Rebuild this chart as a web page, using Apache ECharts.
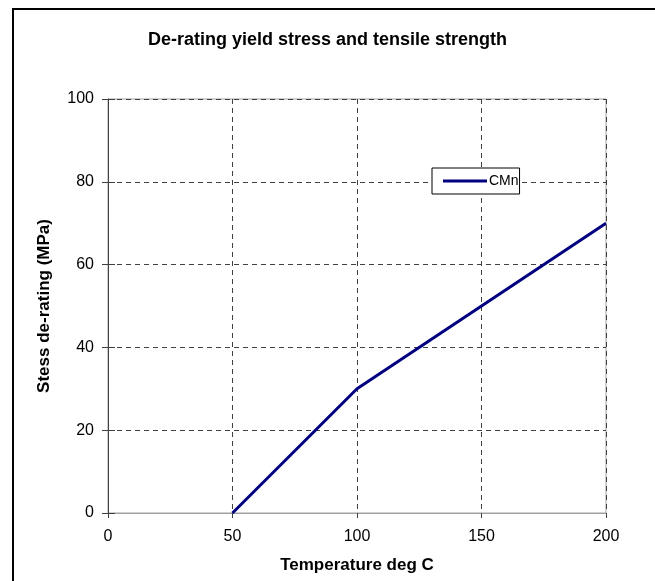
<!DOCTYPE html>
<html>
<head>
<meta charset="utf-8">
<script src="https://cdn.jsdelivr.net/npm/echarts@6/dist/echarts.min.js"></script>
<style>
html,body{margin:0;padding:0;background:#fff;}
#c{width:655px;height:581px;}
</style>
</head>
<body>
<div id="c"></div>
<script>
var titleText = 'De-rating yield stress and tensile strength';
var xAxisName = 'Temperature deg C';
var yAxisName = 'Stess de-rating (MPa)';
var seriesName = 'CMn';
var temps = [50, 100, 200];
var derating = [0, 30, 70];

var chart = echarts.init(document.getElementById('c'), null, {renderer: 'canvas'});
var font = 'Liberation Sans, Arial, sans-serif';
chart.setOption({
  backgroundColor: '#fff',
  animation: false,
  title: {
    text: titleText,
    left: 'center',
    top: 26,
    textStyle: {fontFamily: font, fontSize: 18, fontWeight: 'bold', color: '#000'}
  },
  graphic: [{
    type: 'rect',
    shape: {x: 13, y: 9, width: 700, height: 700},
    style: {fill: null, stroke: '#000', lineWidth: 2},
    silent: true
  }],
  legend: {
    data: [{name: seriesName, icon: 'rect'}],
    left: 432,
    top: 168,
    orient: 'vertical',
    backgroundColor: '#fff',
    borderColor: '#000',
    borderWidth: 1,
    borderRadius: 0,
    padding: [5, 1, 5, 11],
    itemWidth: 44,
    itemHeight: 3,
    itemGap: 0,
    itemStyle: {color: '#000080'},
    textStyle: {fontFamily: font, fontSize: 14, color: '#000', lineHeight: 16, padding: [0, 0, 0, -3]},
    z: 10
  },
  grid: {
    left: 108, right: 49, top: 99, bottom: 68,
    show: true, borderColor: '#a0a0a0', borderWidth: 1, backgroundColor: 'transparent'
  },
  xAxis: {
    type: 'value',
    min: 0, max: 200, interval: 50,
    name: xAxisName,
    nameLocation: 'middle',
    nameGap: 44,
    nameTextStyle: {fontFamily: font, fontSize: 17, fontWeight: 'bold', color: '#000'},
    axisLine: {show: true, onZero: false, lineStyle: {color: '#a0a0a0', width: 1}},
    axisTick: {show: true, length: 5, lineStyle: {color: '#404040'}},
    axisLabel: {fontFamily: font, fontSize: 16, color: '#000', margin: 16},
    splitLine: {show: true, lineStyle: {color: '#404040', type: [5, 4], width: 1}}
  },
  yAxis: [{
    type: 'value',
    min: 0, max: 100, interval: 20,
    name: yAxisName,
    nameLocation: 'middle',
    nameGap: 55,
    nameTextStyle: {fontFamily: font, fontSize: 17, fontWeight: 'bold', color: '#000'},
    axisLine: {show: true, lineStyle: {color: '#404040', width: 1}},
    axisTick: {show: true, length: 6, lineStyle: {color: '#404040'}},
    axisLabel: {fontFamily: font, fontSize: 16, color: '#000', margin: 14},
    splitLine: {show: true, lineStyle: {color: '#404040', type: [5, 4], width: 1}}
  }, {
    type: 'value',
    position: 'left',
    min: 0, max: 100, interval: 20,
    axisLine: {show: false},
    axisTick: {show: true, inside: true, length: 7, lineStyle: {color: '#404040'}},
    axisLabel: {show: false},
    splitLine: {show: false}
  }],
  series: [{
    name: seriesName,
    type: 'line',
    data: temps.map(function (t, i) { return [t, derating[i]]; }),
    symbol: 'none',
    lineStyle: {color: '#000080', width: 3},
    itemStyle: {color: '#000080'},
    z: 5
  }]
});
</script>
</body>
</html>
